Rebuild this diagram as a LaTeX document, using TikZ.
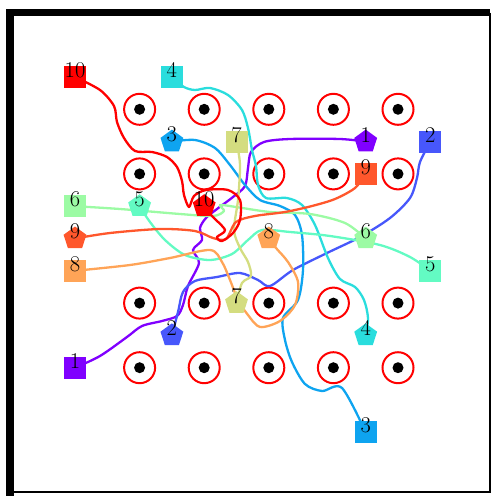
\documentclass[tikz,border=0pt]{standalone}
\usepackage{xcolor}
\definecolor{cola}{RGB}{128,0,255}
\definecolor{colb}{RGB}{71,87,251}
\definecolor{colc}{RGB}{14,164,240}
\definecolor{cold}{RGB}{42,221,221}
\definecolor{cole}{RGB}{99,251,195}
\definecolor{colf}{RGB}{156,251,164}
\definecolor{colg}{RGB}{212,221,128}
\definecolor{colh}{RGB}{255,164,87}
\definecolor{coli}{RGB}{255,87,44}
\definecolor{colj}{RGB}{255,0,0}
\usepackage{tikz}
\usetikzlibrary{shapes.geometric}
\pgfdeclarelayer{pads}
\pgfdeclarelayer{wires}
\pgfsetlayers{pads,wires,main}
\tikzstyle{pad} = [draw=red, line width=2pt, fill=white]
\tikzstyle{hole} = [fill=black]
\tikzstyle{src} = [rectangle, inner sep=0pt, minimum size=22pt]
\tikzstyle{snk} = [regular polygon, regular polygon sides=5, inner sep=0pt, minimum size=24pt]
\tikzstyle{wire} = [line width=2.3pt, line join=round, line cap=round]
\tikzstyle{lab} = [inner sep=0pt, font=\fontsize{22.5}{26}\selectfont]

\begin{document}
\begin{tikzpicture}[x=1pt, y=-1pt]
    \useasboundingbox (0,0) rectangle (492,496);
    \draw[line width=7.5pt] (10,496) -- (10,12.5) -- (490,12.5);
    \draw[line width=1.5pt] (490,12.5) -- (490,492) -- (10,492);

    \begin{pgfonlayer}{pads}
    \foreach \i in {2,4,...,10}
      \foreach \j in {1,3,7,9} {
        \draw[pad] ({75+32.3*\i},{77+32.3*\j}) circle[radius=15.5pt];
        \fill[hole] ({75+32.3*\i},{77+32.3*\j}) circle[radius=5.5pt];
      }
    \end{pgfonlayer}

    % start and end of each net
    \node[src, fill=cola] (s1) at (75,367.7) {};
    \node[snk, fill=cola] (e1) at (365.7,141.6) {};
    \node[src, fill=colb] (s2) at (430.3,141.6) {};
    \node[snk, fill=colb] (e2) at (171.9,335.4) {};
    \node[src, fill=colc] (s3) at (365.7,432.3) {};
    \node[snk, fill=colc] (e3) at (171.9,141.6) {};
    \node[src, fill=cold] (s4) at (171.9,77) {};
    \node[snk, fill=cold] (e4) at (365.7,335.4) {};
    \node[src, fill=cole] (s5) at (430.3,270.8) {};
    \node[snk, fill=cole] (e5) at (139.6,206.2) {};
    \node[src, fill=colf] (s6) at (75,206.2) {};
    \node[snk, fill=colf] (e6) at (365.7,238.5) {};
    \node[src, fill=colg] (s7) at (236.5,141.6) {};
    \node[snk, fill=colg] (e7) at (236.5,303.1) {};
    \node[src, fill=colh] (s8) at (75,270.8) {};
    \node[snk, fill=colh] (e8) at (268.8,238.5) {};
    \node[src, fill=coli] (s9) at (365.7,173.9) {};
    \node[snk, fill=coli] (e9) at (75,238.5) {};
    \node[src, fill=colj] (s10) at (75,77) {};
    \node[snk, fill=colj] (e10) at (204.2,206.2) {};

    \foreach \n in {1,...,10} {
      \node[lab] (ts\n) at ([yshift=7pt]s\n.center) {\n};
      \node[lab] (te\n) at ([yshift=7pt]e\n.center) {\n};
    }

    \begin{pgfonlayer}{wires}
    \draw[wire, cola] plot[smooth, tension=0.5] coordinates {(s1.center) (100,356) (127,337) (142,326) (162,321) (177,316) (183,305) (188,286) (199,263) (193,250) (202,240) (200,228) (206,218) (217,209) (233,197) (245,186) (248,168) (251,152) (264,142) (290,139) (340,139) (e1.center)};
    \draw[wire, colb] plot[smooth, tension=0.5] coordinates {(s2.center) (420,162) (417,178) (410,198) (390,218) (360,237) (327,253) (293,270) (270,286) (258,280) (240,273) (217,277) (195,281) (183,292) (178,312) (e2.center)};
    \draw[wire, colc] plot[smooth, tension=0.5] coordinates {(e3.center) (195,140) (215,148) (230,165) (245,185) (260,200) (280,206) (295,215) (302,235) (303,270) (298,300) (283,318) (285,340) (292,362) (305,384) (322,391) (342,388) (s3.center)};
    \draw[wire, cold] plot[smooth, tension=0.5] coordinates {(s4.center) (184,87) (195,90) (210,88) (228,95) (242,110) (248,128) (252,150) (256,166) (258,185) (266,198) (287,198) (302,205) (315,225) (328,258) (340,279) (355,287) (364,300) (368,318) (e4.center)};
    \draw[wire, cole] plot[smooth, tension=0.5] coordinates {(e5.center) (150,222) (165,240) (185,255) (210,260) (232,254) (248,240) (262,230) (290,232) (330,236) (380,245) (410,257) (s5.center)};
    \draw[wire, colf] plot[smooth, tension=0.5] coordinates {(s6.center) (120,209) (180,214) (213,216) (224,211) (220,205) (236,207) (270,212) (310,214) (345,223) (e6.center)};
    \draw[wire, colg] plot[smooth, tension=0.5] coordinates {(s7.center) (240,165) (238,200) (234,230) (240,248) (248,262) (251,276) (242,283) (e7.center)};
    \draw[wire, colh] plot[smooth, tension=0.5] coordinates {(s8.center) (130,265) (170,258) (210,250) (222,262) (230,280) (238,300) (248,315) (260,327) (280,321) (295,305) (298,282) (288,262) (276,248) (e8.center)};
    \draw[wire, coli] plot[smooth, tension=0.5] coordinates {(e9.center) (110,233) (160,229) (195,231) (213,238) (226,239) (236,222) (255,216) (285,212) (312,206) (335,199) (355,188) (s9.center)};
    \draw[wire, colj] plot[smooth, tension=0.5] coordinates {(s10.center) (100,90) (114,106) (117,122) (124,138) (135,151) (152,152) (167,157) (177,167) (182,181) (184,195) (189,207) (194,196) (206,190) (228,190) (240,200) (240,220) (233,233) (222,241) (217,237) (225,230) (212,216) (e10.center)};
    \end{pgfonlayer}
\end{tikzpicture}
\end{document}
